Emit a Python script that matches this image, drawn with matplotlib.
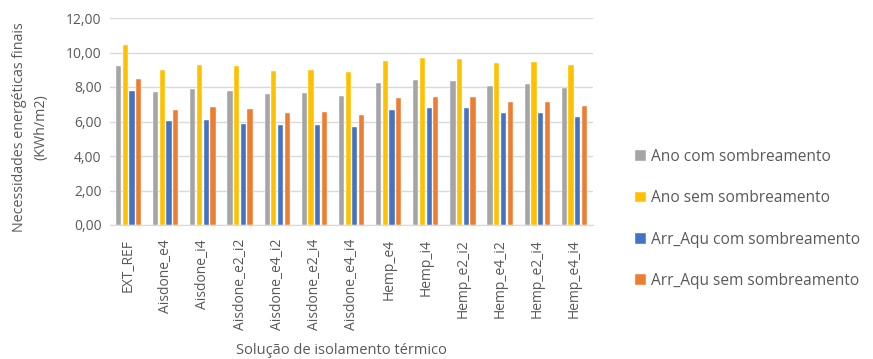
import matplotlib
matplotlib.use("Agg")
import matplotlib.pyplot as plt
import numpy as np

plt.rcParams['font.family'] = ['Open Sans', 'DejaVu Sans']

categories = ["EXT_REF", "Aisl_e4", "Aisl_i4", "Aisl_e2_i2", "Aisl_e4_i2",
              "Aisl_e2_i4", "Aisl_e4_i4", "Hemp_e4", "Hemp_i4", "Hemp_e2_i2",
              "Hemp_e4_i2", "Hemp_e2_i4", "Hemp_e4_i4"]
tick_labels = ["EXT_REF", "Aisdone_e4", "Aisdone_i4", "Aisdone_e2_i2", "Aisdone_e4_i2",
               "Aisdone_e2_i4", "Aisdone_e4_i4", "Hemp_e4", "Hemp_i4", "Hemp_e2_i2",
               "Hemp_e4_i2", "Hemp_e2_i4", "Hemp_e4_i4"]

ano_com = [9.22, 7.69, 7.91, 7.79, 7.60, 7.66, 7.48, 8.26, 8.41, 8.35, 8.04, 8.16, 7.95]
ano_sem = [10.45, 9.01, 9.28, 9.19, 8.91, 8.97, 8.88, 9.53, 9.69, 9.63, 9.38, 9.44, 9.28]
arr_com = [7.79, 6.01, 6.10, 5.85, 5.81, 5.81, 5.66, 6.69, 6.78, 6.78, 6.47, 6.47, 6.28]
arr_sem = [8.47, 6.67, 6.82, 6.72, 6.47, 6.53, 6.36, 7.34, 7.44, 7.44, 7.15, 7.15, 6.92]

series = [
    ("Ano com sombreamento", ano_com, "#A5A5A5"),
    ("Ano sem sombreamento", ano_sem, "#FFC000"),
    ("Arr_Aqu com sombreamento", arr_com, "#4472C4"),
    ("Arr_Aqu sem sombreamento", arr_sem, "#ED7D31"),
]

text_color = "#595959"
W, H = 873, 359
fig = plt.figure(figsize=(W / 100, H / 100), dpi=100)
ax = fig.add_axes([110 / W, 1 - 225 / H, (593 - 110) / W, (225 - 18) / H])

x = np.arange(len(categories))
width = 0.14
step = 0.18
handles = []
for i, (name, vals, color) in enumerate(series):
    b = ax.bar(x + (i - 1.5) * step, vals, width, color=color, label=name,
               edgecolor="white", linewidth=0.3, zorder=3)
    handles.append(b)

ax.set_xlim(-0.5, len(categories) - 0.5)
ax.set_ylim(0, 12)
ax.set_yticks(np.arange(0, 12.01, 2))
ax.set_yticklabels([f"{v:.2f}".replace(".", ",") for v in np.arange(0, 12.01, 2)],
                   fontsize=10, color=text_color)
ax.set_xticks(x)
ax.set_xticklabels(tick_labels, rotation=90, fontsize=10, color=text_color)
ax.tick_params(axis="y", length=0, pad=6)
ax.tick_params(axis="x", length=0, pad=10)
ax.grid(axis="y", color="#D9D9D9", linewidth=1, zorder=0)
for s in ["top", "right", "left"]:
    ax.spines[s].set_visible(False)
ax.spines["bottom"].set_color("#D9D9D9")
ax.spines["bottom"].set_zorder(4)

fig.text(30 / W, 1 - 127 / H, "Necessidades energéticas finais\n(KWh/m2)",
         rotation=90, ha="center", va="center", fontsize=10.3, color=text_color,
         multialignment="center", linespacing=1.55)
fig.text(341 / W, 1 - 351 / H, "Solução de isolamento térmico",
         ha="center", va="center", fontsize=10.5, color=text_color)

leg = fig.legend(handles=handles, loc="center left",
                 bbox_to_anchor=(621 / W, 1 - 219 / H), frameon=False,
                 fontsize=11.2, labelcolor=text_color, handlelength=0.7,
                 handleheight=0.7, handletextpad=0.3, labelspacing=1.62)

fig.savefig("out.png", dpi=100)
